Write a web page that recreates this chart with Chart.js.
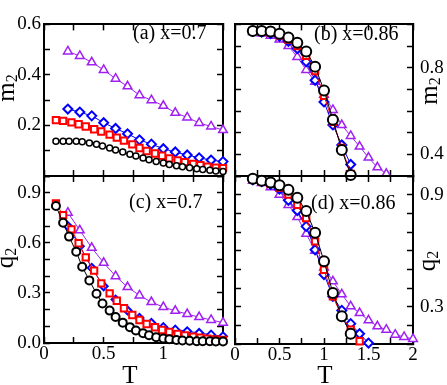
<!DOCTYPE html>
<html>
<head>
<meta charset="utf-8">
<script src="https://cdn.jsdelivr.net/npm/chart.js@4.4.1/dist/chart.umd.min.js"></script>
<style>
  body { margin: 0; background: #fff; }
  .wrap { position: relative; width: 447px; height: 385px; }
  canvas { position: absolute; left: 0; top: 0; }
</style>
</head>
<body>
<div class="wrap">
  <canvas id="panelA" width="447" height="385"></canvas>
  <canvas id="panelB" width="447" height="385"></canvas>
  <canvas id="panelC" width="447" height="385"></canvas>
  <canvas id="panelD" width="447" height="385"></canvas>
</div>
<script>
// temperatures, x = 0.7 (left column)
const tBlackL = [0.10, 0.16, 0.21, 0.27, 0.32, 0.38, 0.44, 0.49, 0.55, 0.60, 0.66, 0.72, 0.77,
                 0.83, 0.88, 0.94, 1.00, 1.05, 1.11, 1.16, 1.22, 1.28, 1.33, 1.39, 1.44, 1.50];
const tRedL = [0.10, 0.16, 0.23, 0.29, 0.35, 0.42, 0.48, 0.55, 0.61, 0.67, 0.74, 0.80,
               0.86, 0.93, 0.99, 1.05, 1.12, 1.18, 1.25, 1.31, 1.37, 1.44, 1.50];
const tCoarseL = [0.2, 0.3, 0.4, 0.5, 0.6, 0.7, 0.8, 0.9, 1.0, 1.1, 1.2, 1.3, 1.4, 1.5];

// (a) m2, x=0.7
const m2BlackA = [0.138, 0.138, 0.138, 0.138, 0.136, 0.131, 0.126, 0.119, 0.111, 0.103, 0.095, 0.086, 0.079,
                  0.071, 0.064, 0.057, 0.051, 0.046, 0.041, 0.037, 0.033, 0.029, 0.026, 0.023, 0.020, 0.018];
const m2RedA = [0.221, 0.218, 0.212, 0.205, 0.196, 0.185, 0.176, 0.164, 0.152, 0.140, 0.125, 0.111,
                0.099, 0.089, 0.080, 0.070, 0.062, 0.055, 0.048, 0.043, 0.037, 0.033, 0.031];
const m2BlueA = [0.265, 0.253, 0.238, 0.211, 0.188, 0.167, 0.143, 0.126, 0.108, 0.095, 0.083, 0.072, 0.063, 0.057];
const m2PurpleA = [0.493, 0.475, 0.450, 0.420, 0.385, 0.355, 0.320, 0.300, 0.278, 0.250, 0.232, 0.210, 0.196, 0.182];

// (c) q2, x=0.7
const q2BlackC = [0.820, 0.720, 0.637, 0.547, 0.457, 0.375, 0.295, 0.236, 0.194, 0.156, 0.122, 0.095, 0.075,
                  0.058, 0.046, 0.035, 0.027, 0.022, 0.018, 0.015, 0.013, 0.011, 0.010, 0.010, 0.009, 0.009];
const q2RedC = [0.836, 0.766, 0.680, 0.597, 0.513, 0.433, 0.357, 0.297, 0.253, 0.208, 0.168, 0.138,
                0.114, 0.094, 0.078, 0.066, 0.054, 0.046, 0.038, 0.032, 0.026, 0.022, 0.018];
const q2BlueC = [0.700, 0.580, 0.450, 0.340, 0.260, 0.195, 0.150, 0.120, 0.095, 0.080, 0.070, 0.060, 0.050, 0.040];
const q2PurpleC = [0.780, 0.675, 0.570, 0.480, 0.400, 0.335, 0.285, 0.245, 0.215, 0.193, 0.173, 0.155, 0.138, 0.122];

// temperatures, x = 0.86 (right column)
const tB12 = [0.2, 0.3, 0.4, 0.5, 0.6, 0.7, 0.8, 0.9, 1.0, 1.1, 1.2, 1.3];
const tB13 = [0.2, 0.3, 0.4, 0.5, 0.6, 0.7, 0.8, 0.9, 1.0, 1.1, 1.2, 1.3, 1.4];
const tB14 = [0.2, 0.3, 0.4, 0.5, 0.6, 0.7, 0.8, 0.9, 1.0, 1.1, 1.2, 1.3, 1.4, 1.5];
const tB16 = [0.2, 0.3, 0.4, 0.5, 0.6, 0.7, 0.8, 0.9, 1.0, 1.1, 1.2, 1.3, 1.4, 1.5, 1.6, 1.7];
const tB19 = [0.2, 0.3, 0.4, 0.5, 0.6, 0.7, 0.8, 0.9, 1.0, 1.1, 1.2, 1.3, 1.4, 1.5, 1.6, 1.7, 1.8, 1.9, 2.0];

// (b) m2, x=0.86
const m2BlackB = [0.970, 0.970, 0.967, 0.957, 0.940, 0.915, 0.875, 0.805, 0.695, 0.560, 0.420, 0.305];
const m2RedB = [0.970, 0.968, 0.962, 0.950, 0.930, 0.900, 0.855, 0.785, 0.670, 0.550, 0.430, 0.310];
const m2BlueB = [0.968, 0.965, 0.958, 0.945, 0.922, 0.888, 0.828, 0.742, 0.642, 0.536, 0.443, 0.353];
const m2PurpleB = [0.965, 0.958, 0.948, 0.930, 0.900, 0.850, 0.790, 0.735, 0.675, 0.605, 0.535, 0.485,
                   0.436, 0.385, 0.340, 0.310];

// (d) q2, x=0.86
const q2BlackD = [0.985, 0.975, 0.965, 0.950, 0.926, 0.883, 0.812, 0.696, 0.543, 0.373, 0.248, 0.155];
const q2RedD = [0.983, 0.972, 0.958, 0.938, 0.900, 0.846, 0.775, 0.650, 0.498, 0.355, 0.248, 0.177, 0.115];
const q2BlueD = [0.980, 0.970, 0.955, 0.930, 0.870, 0.815, 0.730, 0.605, 0.472, 0.355, 0.280, 0.209, 0.155, 0.105];
const q2PurpleD = [0.975, 0.963, 0.940, 0.900, 0.845, 0.780, 0.690, 0.600, 0.510, 0.436, 0.366, 0.302,
                   0.266, 0.227, 0.195, 0.177, 0.150, 0.138, 0.127];

// tick labels
const xLabelsL = [0, 0.5, 1];
const xLabelsR = [0, 0.5, 1, 1.5, 2];
const yLabelsA = [0.2, 0.4, 0.6];
const yLabelsB = [0.4, 0.8];
const yLabelsC = [0.0, 0.3, 0.6, 0.9];
const yLabelsD = [0.3, 0.9];

const SERIF = "'Liberation Serif', 'Times New Roman', serif";
const W = 447, H = 385;

function pts(xs, ys) {
  return ys.map((y, i) => ({ x: xs[i], y: y }));
}

function series(xs, ys, color, style, r, bw) {
  return {
    data: pts(xs, ys),
    borderColor: color,
    borderWidth: 1,
    pointStyle: style,
    pointRadius: r,
    pointBorderWidth: bw,
    pointBorderColor: color,
    pointBackgroundColor: "#fff",
    fill: false,
    tension: 0,
    clip: false
  };
}

// size = room the axis keeps for its labels (0 when it has none)
function axis(pos, min, max, step, labels, fmt, pad, size) {
  const horiz = pos === "top" || pos === "bottom";
  return {
    type: "linear",
    position: pos,
    min: min,
    max: max,
    afterFit: s => { if (horiz) s.height = size; else s.width = size; },
    border: { display: true, color: "#000", width: 2 },
    grid: { drawOnChartArea: false, drawTicks: true, tickLength: -6, tickWidth: 1.5, tickColor: "#000" },
    ticks: {
      stepSize: step,
      autoSkip: false,
      maxRotation: 0,
      color: "#000",
      padding: pad,
      font: { family: SERIF, size: 19 },
      callback: v => {
        const hit = labels.find(l => Math.abs(l - v) < 1e-6);
        return hit === undefined ? "" : fmt(hit);
      }
    }
  };
}

// rotated axis name with a subscript
function drawSubName(c, main, sub, baseX, cy) {
  c.save();
  c.translate(baseX, cy);
  c.rotate(-Math.PI / 2);
  c.font = "25px " + SERIF;
  const w1 = c.measureText(main).width;
  c.font = "16px " + SERIF;
  const w2 = c.measureText(sub).width;
  const x0 = -(w1 + w2) / 2;
  c.textBaseline = "alphabetic";
  c.textAlign = "left";
  c.font = "25px " + SERIF;
  c.fillText(main, x0, 0);
  c.font = "16px " + SERIF;
  c.fillText(sub, x0 + w1, 3);
  c.restore();
}

const panelText = {
  id: "panelText",
  afterDraw(chart, args, o) {
    const c = chart.ctx;
    c.save();
    c.fillStyle = "#000";
    c.font = "20px " + SERIF;
    c.textBaseline = "middle";
    c.textAlign = "left";
    c.fillText(o.tag, o.tagX, o.tagY);
    drawSubName(c, o.yName, "2", o.yNameX, o.yNameY);
    if (o.xName) {
      c.font = "25px " + SERIF;
      c.textAlign = "center";
      c.fillText(o.xName, o.xNameX, 376);
    }
    c.restore();
  }
};

function makePanel(id, cfg) {
  const ctx = document.getElementById(id).getContext("2d");
  const b = cfg.box;
  const left = cfg.side === "left";
  const hasX = cfg.xLabels.length > 0;
  const fmtX = v => String(v);
  const fmtY = v => v.toFixed(1);
  const leftSize = left ? b[0] : 0;
  const rightSize = left ? 0 : W - b[2];
  const bottomSize = hasX ? H - b[3] : 0;
  return new Chart(ctx, {
    type: "line",
    data: {
      datasets: [
        series(cfg.tBlack, cfg.black, "#000000", "circle", cfg.rc, cfg.bwc),
        series(cfg.tRed, cfg.red, "#ff0000", "rect", cfg.rs, 2),
        series(cfg.tBlue, cfg.blue, "#0000ff", "rectRot", cfg.rd, 2),
        series(cfg.tPurple, cfg.purple, "#a020f0", "triangle", cfg.rt, 1.5)
      ]
    },
    options: {
      responsive: false,
      animation: false,
      layout: {
        padding: {
          left: b[0] - leftSize,
          top: b[1],
          right: W - b[2] - rightSize,
          bottom: H - b[3] - bottomSize
        }
      },
      plugins: {
        legend: { display: false },
        tooltip: { enabled: false },
        panelText: cfg.text
      },
      scales: {
        x: axis("bottom", 0, cfg.xmax, 0.25, cfg.xLabels, fmtX, 6, bottomSize),
        x2: axis("top", 0, cfg.xmax, 0.25, [], fmtX, 0, 0),
        y: axis("left", cfg.ymin, cfg.ymax, 0.1, left ? cfg.yLabels : [], fmtY, 9, leftSize),
        y2: axis("right", cfg.ymin, cfg.ymax, 0.1, left ? [] : cfg.yLabels, fmtY, 13, rightSize)
      }
    },
    plugins: [panelText]
  });
}

makePanel("panelA", {
  box: [44, 8, 223, 176], side: "left", xmax: 1.5, ymin: 0, ymax: 0.6,
  xLabels: [], yLabels: yLabelsA,
  tBlack: tBlackL, black: m2BlackA, tRed: tRedL, red: m2RedA,
  tBlue: tCoarseL, blue: m2BlueA, tPurple: tCoarseL, purple: m2PurpleA,
  rc: 3, bwc: 1.5, rs: 4.5, rd: 4.5, rt: 5,
  text: { tag: "(a) x=0.7", tagX: 133, tagY: 34, yName: "m", yNameX: 14, yNameY: 88 }
});

makePanel("panelB", {
  box: [235, 8, 413, 176], side: "right", xmax: 2, ymin: 0.3, ymax: 1.0,
  xLabels: [], yLabels: yLabelsB,
  tBlack: tB12, black: m2BlackB, tRed: tB12, red: m2RedB,
  tBlue: tB12, blue: m2BlueB, tPurple: tB16, purple: m2PurpleB,
  rc: 5, bwc: 2, rs: 4.5, rd: 4.5, rt: 5,
  text: { tag: "(b) x=0.86", tagX: 314, tagY: 35, yName: "m", yNameX: 437, yNameY: 91 }
});

makePanel("panelC", {
  box: [44, 176, 223, 343], side: "left", xmax: 1.5, ymin: 0, ymax: 1.0,
  xLabels: xLabelsL, yLabels: yLabelsC,
  tBlack: tBlackL, black: q2BlackC, tRed: tRedL, red: q2RedC,
  tBlue: tCoarseL, blue: q2BlueC, tPurple: tCoarseL, purple: q2PurpleC,
  rc: 4, bwc: 2, rs: 4.5, rd: 4, rt: 5,
  text: { tag: "(c) x=0.7", tagX: 129, tagY: 203, yName: "q", yNameX: 13, yNameY: 258,
          xName: "T", xNameX: 130 }
});

makePanel("panelD", {
  box: [235, 176, 413, 344], side: "right", xmax: 2, ymin: 0.1, ymax: 1.0,
  xLabels: xLabelsR, yLabels: yLabelsD,
  tBlack: tB12, black: q2BlackD, tRed: tB13, red: q2RedD,
  tBlue: tB14, blue: q2BlueD, tPurple: tB19, purple: q2PurpleD,
  rc: 5, bwc: 2, rs: 4.5, rd: 4.5, rt: 5,
  text: { tag: "(d) x=0.86", tagX: 311, tagY: 204, yName: "q", yNameX: 435, yNameY: 261,
          xName: "T", xNameX: 325 }
});
</script>
</body>
</html>
